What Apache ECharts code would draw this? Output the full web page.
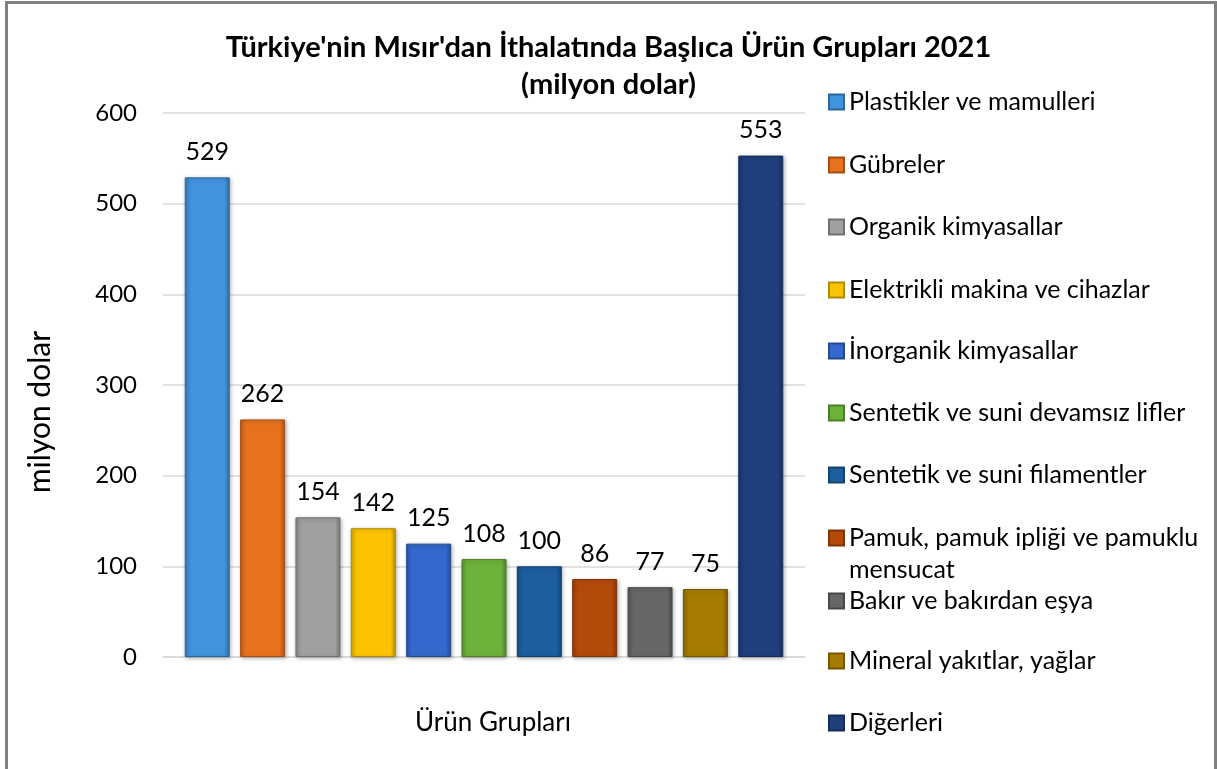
<!DOCTYPE html>
<html>
<head>
<meta charset="utf-8">
<title>Türkiye'nin Mısır'dan İthalatı 2021</title>
<script src="https://cdn.jsdelivr.net/npm/echarts@6/dist/echarts.min.js"></script>
<style>
  html, body { margin: 0; padding: 0; background: #fff; }
  #chart { width: 1217px; height: 769px; }
</style>
</head>
<body>
<div id="chart"></div>
<script>
// ürün grupları ve değerleri (milyon dolar)
var groups = [
  'Plastikler ve mamulleri',
  'Gübreler',
  'Organik kimyasallar',
  'Elektrikli makina ve cihazlar',
  'İnorganik kimyasallar',
  'Sentetik ve suni devamsız lifler',
  'Sentetik ve suni filamentler',
  'Pamuk, pamuk ipliği ve pamuklu mensucat',
  'Bakır ve bakırdan eşya',
  'Mineral yakıtlar, yağlar',
  'Diğerleri'
];
var values = [529, 262, 154, 142, 125, 108, 100, 86, 77, 75, 553];
var yTicks = [0, 100, 200, 300, 400, 500, 600];

var colors = ['#4193dc', '#e8711d', '#a0a0a0', '#fcc400', '#3468cc', '#6cb23a',
              '#1c5e9e', '#b44a0a', '#676767', '#a67c00', '#1f3f7d'];
var font = 'Lato, "Open Sans", sans-serif';

// legend satır merkezleri (px)
var legendY = [102, 165, 227, 290, 351, 413, 475, 538, 601, 661, 723];

function shade(hex, k) {
  var n = parseInt(hex.slice(1), 16);
  var r = (n >> 16) & 255, g = (n >> 8) & 255, b = n & 255;
  var f = function (c) { return Math.max(0, Math.min(255, Math.round(c * k))); };
  return 'rgb(' + f(r) + ',' + f(g) + ',' + f(b) + ')';
}

var chart = echarts.init(document.getElementById('chart'));

var series = groups.map(function (name, i) {
  return {
    name: name,
    type: 'bar',
    barWidth: 45,
    barGap: '23%',
    data: [values[i]],
    itemStyle: {
      color: new echarts.graphic.LinearGradient(0, 0, 1, 0, [
        { offset: 0, color: shade(colors[i], 0.85) },
        { offset: 0.12, color: colors[i] },
        { offset: 0.88, color: colors[i] },
        { offset: 1, color: shade(colors[i], 0.75) }
      ]),
      borderColor: shade(colors[i], 0.7),
      borderWidth: 1,
      shadowColor: 'rgba(0,0,0,0.3)',
      shadowBlur: 4,
      shadowOffsetX: 1,
      shadowOffsetY: 1
    },
    label: {
      show: true,
      position: 'top',
      distance: 13,
      fontSize: 25,
      fontFamily: font,
      color: '#000'
    }
  };
});

var legends = groups.map(function (name, i) {
  var twoLine = name.indexOf('Pamuk') === 0;
  return {
    data: [{ name: name, icon: 'rect', itemStyle: { color: colors[i] } }],
    left: 828,
    top: twoLine ? legendY[i] - 48 : legendY[i] - 14,
    padding: 0,
    itemWidth: 15,
    itemHeight: 15,
    selectedMode: false,
    // iki satırlık öğe: ilk satır ikonla hizalansın diye başa boş satır
    formatter: twoLine ? function () { return ' \nPamuk, pamuk ipliği ve pamuklu\nmensucat'; } : '{name}',
    textStyle: {
      fontSize: 25,
      fontFamily: font,
      color: '#000',
      lineHeight: twoLine ? 32 : 28
    }
  };
});

chart.setOption({
  animation: false,
  title: {
    text: "Türkiye'nin Mısır'dan İthalatında Başlıca Ürün Grupları 2021\n(milyon dolar)",
    left: 'center',
    top: 24,
    textStyle: {
      fontSize: 29,
      fontWeight: 'bold',
      fontFamily: font,
      color: '#000',
      lineHeight: 37
    }
  },
  legend: legends,
  grid: { left: 163, right: 412, top: 113, bottom: 112 },
  xAxis: {
    type: 'category',
    data: [''],
    name: 'Ürün Grupları',
    nameLocation: 'middle',
    nameGap: 53,
    nameTextStyle: { fontSize: 26, fontFamily: font, color: '#000', padding: [0, 0, 0, 18] },
    axisLine: { lineStyle: { color: '#d9d9d9', width: 1.5 } },
    axisTick: { show: false },
    axisLabel: { show: false }
  },
  yAxis: {
    type: 'value',
    min: yTicks[0],
    max: yTicks[yTicks.length - 1],
    interval: 100,
    name: 'milyon dolar',
    nameLocation: 'middle',
    nameRotate: 90,
    nameGap: 108,
    nameTextStyle: { fontSize: 30, fontFamily: font, color: '#000', padding: [0, 54, 0, 0] },
    axisLine: { show: false },
    axisTick: { show: false },
    axisLabel: { margin: 26, fontSize: 24, fontFamily: font, color: '#000' },
    splitLine: { lineStyle: { color: '#d9d9d9', width: 1.5 } }
  },
  graphic: [{
    type: 'rect',
    silent: true,
    shape: { x: 6.5, y: 2.5, width: 1209, height: 800 },
    style: { fill: 'none', stroke: '#808080', lineWidth: 3 }
  }],
  series: series
});
</script>
</body>
</html>
